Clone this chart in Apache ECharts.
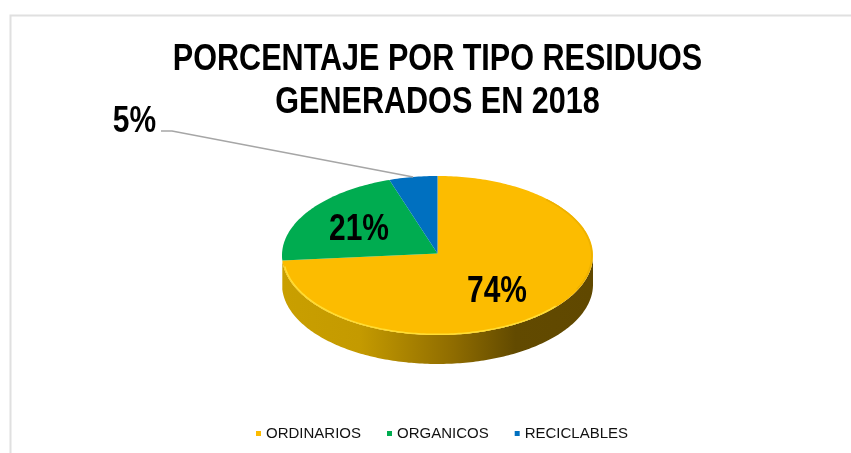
<!DOCTYPE html>
<html><head><meta charset="utf-8">
<style>html,body{margin:0;padding:0;background:#fff}#c{width:851px;height:453px}</style>
<script src="https://cdn.jsdelivr.net/npm/echarts@6/dist/echarts.min.js"></script>
</head><body><div id="c"></div>
<script>
var categories = ['ORDINARIOS', 'ORGANICOS', 'RECICLABLES'];
var percentages = [74, 21, 5];
var colors = ['#FCBC00', '#00AC50', '#0070C0'];
var titleLines = 'PORCENTAJE POR TIPO RESIDUOS\nGENERADOS EN 2018';

var FONT = '"Liberation Sans",Arial,sans-serif';
var CX = 437.5, CY = 255.5, RX = 155.5, RY = 79.5, DEPTH = 29, APEX_Y = 253.5, NARROW = 0.81;
var labelSpots = [[497, 292], [359, 230], [134.5, 122]];
var total = percentages.reduce(function (a, b) { return a + b; }, 0);

function pt(deg, dy, k) {
  var r = deg * Math.PI / 180, f = k || 1;
  return [CX + RX * f * Math.sin(r), CY - RY * f * Math.cos(r) + (dy || 0)];
}
function arc(a0, a1, dy, k) {
  var out = [], n = Math.max(2, Math.ceil(Math.abs(a1 - a0)));
  for (var i = 0; i <= n; i++) out.push(pt(a0 + (a1 - a0) * i / n, dy, k));
  return out;
}
function startAngle(i) {
  var s = 0;
  for (var k = 0; k < i; k++) s += percentages[k];
  return s / total * 360;
}
function renderSlice(i) {
  return function (params, api) {
    var v = api.value(0);
    var a0 = startAngle(i), a1 = a0 + v / total * 360;
    var kids = [];
    if (i === 0) {
      var sideEnd = Math.min(a1, 270);
      var side = arc(90, sideEnd, 0).concat(arc(sideEnd, 90, DEPTH));
      kids.push({
        type: 'polygon', shape: { points: side },
        style: { fill: new echarts.graphic.LinearGradient(0, 0, 1, 0, [
          { offset: 0, color: '#C99F00' }, { offset: 0.25, color: '#C49A00' },
          { offset: 0.55, color: '#8F6C00' }, { offset: 0.75, color: '#624A00' },
          { offset: 1, color: '#604800' }
        ]) }
      });
    }
    kids.push({
      type: 'polygon',
      shape: { points: [[CX, APEX_Y]].concat(arc(a0, a1, 0)) },
      style: { fill: colors[i] }
    });
    if (i === 0) {
      kids.push({ type: 'polyline', shape: { points: arc(130, 262, 0, 0.992) },
        style: { fill: null, stroke: '#FFDD33', lineWidth: 1.5 } });
      kids.push({ type: 'polyline', shape: { points: arc(45, 115, 0, 0.992) },
        style: { fill: null, stroke: '#EDB100', lineWidth: 1.5, lineCap: 'round' } });
    }
    var lp = labelSpots[i];
    if (i === 2) {
      kids.push({ type: 'polyline',
        shape: { points: [[161, 131], [172, 131], pt((a0 + a1) / 2, 0)] },
        style: { fill: null, stroke: '#A6A6A6', lineWidth: 1.5 } });
    }
    kids.push({ type: 'text', x: lp[0], y: lp[1], scaleX: NARROW, style: {
      x: 0, y: 0, text: v + '%', align: 'center', verticalAlign: 'middle',
      font: 'bold 37px ' + FONT, fill: '#000'
    } });
    return { type: 'group', children: kids };
  };
}

var chart = echarts.init(document.getElementById('c'), null, { renderer: 'canvas' });
chart.setOption({
  animation: false,
  backgroundColor: '#fff',
  legend: {
    data: categories, top: 426, left: 256, padding: 0, itemWidth: 5, itemHeight: 5, itemGap: 26,
    icon: 'rect',
    textStyle: { fontFamily: FONT, fontSize: 15, color: '#111' }
  },
  graphic: [{
    type: 'polyline', silent: true, z: -1,
    shape: { points: [[10.5, 453], [10.5, 15.5], [851, 15.5]] },
    style: { fill: null, stroke: '#E0E0E0', lineWidth: 2 }
  }, {
    type: 'text', silent: true, x: 437.5, y: 81.5, scaleX: 0.826,
    style: {
      x: 0, y: 0, text: titleLines, align: 'center', verticalAlign: 'middle',
      font: 'bold 37px ' + FONT, lineHeight: 42.5, fill: '#000'
    }
  }],
  series: categories.map(function (name, i) {
    return {
      type: 'custom', name: name, coordinateSystem: 'none',
      itemStyle: { color: colors[i] },
      data: [[percentages[i]]],
      renderItem: renderSlice(i)
    };
  })
});
</script></body></html>
